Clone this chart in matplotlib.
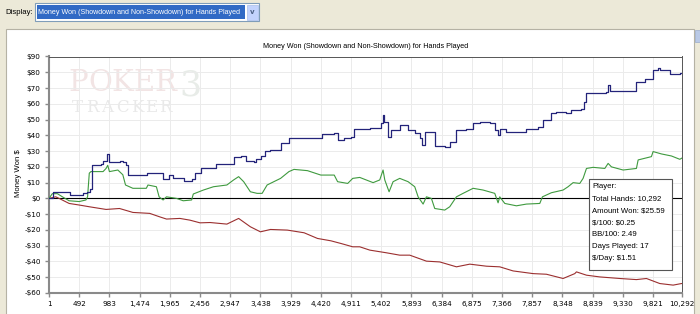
import matplotlib
matplotlib.use("Agg")
import matplotlib.pyplot as plt
from matplotlib.patches import Rectangle

plt.rcParams['text.parse_math'] = False

# ---------------- data ----------------
title = "Money Won (Showdown and Non-Showdown) for Hands Played"
ylabel = "Money Won $"
xticks = [1, 492, 983, 1474, 1965, 2456, 2947, 3438, 3929, 4420, 4911,
          5402, 5893, 6384, 6875, 7366, 7857, 8348, 8839, 9330, 9821, 10292]
yticks = [-60, -50, -40, -30, -20, -10, 0, 10, 20, 30, 40, 50, 60, 70, 80, 90]

blue_x = [1, 70, 330, 340, 550, 560, 620, 660, 700, 850, 880, 945, 975, 1150, 1200,
          1260, 1290, 1560, 1600, 1830, 1850, 1960, 2020, 2170, 2190, 2330, 2370,
          2480, 2690, 2710, 2960, 3010, 3130, 3210, 3340, 3370, 3440, 3520, 3600,
          3766, 3902, 4203, 4447, 4638, 4693, 4802, 4911, 4966, 5216, 5405, 5432,
          5450, 5514, 5568, 5703, 5839, 5947, 6029, 6072, 6110, 6245, 6272, 6435,
          6516, 6625, 6787, 6896, 7004, 7167, 7248, 7302, 7329, 7438, 7600, 7763,
          7953, 8034, 8169, 8251, 8413, 8495, 8657, 8695, 8739, 9064, 9091, 9129,
          9497, 9551, 9687, 9822, 9904, 9930, 10094, 10256, 10292]
blue_y = [0, 4, 4, 2, 2, 3.5, 4, 6, 21.5, 22, 24, 28, 23, 24, 23,
          21, 15, 15, 16, 16, 12, 15, 13, 13, 11, 12, 16,
          19, 19, 22, 22, 26, 27, 24, 23, 25, 27, 30, 31,
          35, 38, 38.5, 41, 41.7, 37, 38, 39, 44, 44.5, 47.7, 53,
          48.7, 38.8, 43.4, 46.6, 43.4, 41.3, 38, 33.9, 42, 42, 33.3, 32.8,
          36, 43.4, 44, 48, 48.7, 47.7, 43.4, 40.3, 43.9, 42.4, 42.4, 43.9,
          45.6, 49.8, 54, 55, 54, 56, 56.6, 61.4, 67, 67.8, 72, 68.4,
          68.4, 74, 76, 81.6, 82.6, 81.6, 79, 79.4, 79.5]

green_x = [1, 55, 137, 219, 328, 492, 601, 628, 656, 683, 880, 929, 956, 983, 1120,
           1201, 1245, 1365, 1583, 1610, 1747, 1791, 1856, 1911, 2074, 2183, 2320,
           2347, 2511, 2675, 2893, 3002, 3084, 3166, 3275, 3384, 3466, 3547, 3656,
           3766, 3902, 3984, 4203, 4420, 4638, 4693, 4857, 4939, 5053, 5270, 5378,
           5432, 5460, 5530, 5595, 5703, 5839, 5947, 6002, 6083, 6137, 6218, 6272,
           6435, 6516, 6625, 6733, 6896, 7058, 7248, 7302, 7329, 7411, 7600, 7763,
           7980, 8023, 8169, 8359, 8440, 8522, 8630, 8684, 8739, 8847, 9037, 9091,
           9145, 9335, 9551, 9579, 9795, 9822, 9958, 10121, 10256, 10292]
green_y = [0, 3, 3, 1, -1.5, -2, -1, 1, 16, 17, 17, 19, 21, 17, 18,
           15, 8.5, 6.4, 6.4, 8.5, 7.4, 1, -1, 1, 0, -1.5, -1,
           2.8, 5.3, 7.4, 8.5, 11.7, 13.8, 10.6, 4.2, 3.2, 3.2, 8.5, 10.6,
           12.7, 17, 18.4, 17.6, 14.8, 14.8, 10.6, 9.5, 12.7, 13.3, 10, 11.7,
           18, 11.7, 4.2, 10.6, 12.7, 10.6, 7.4, 1, -3.6, 1, 0, -6.4,
           -7.4, -5.3, 1, 3.2, 6.4, 5.3, 3.2, -2.8, 1, -3.2, -4.7, -3.6,
           -3.2, 1, 3.6, 5.3, 7.4, 10, 9.5, 12.7, 19, 19.7, 19, 22.2,
           20, 18, 19, 24.4, 26.5, 29.7, 28.2, 26.9, 24.8, 25.6]

red_x = [1, 110, 165, 328, 492, 656, 929, 1147, 1365, 1638, 1801, 1911, 2129,
         2293, 2456, 2620, 2893, 3084, 3275, 3438, 3602, 3875, 4148, 4366, 4584,
         4748, 4939, 5053, 5216, 5487, 5703, 5866, 6137, 6354, 6625, 6842, 7113,
         7329, 7546, 7871, 8088, 8359, 8549, 8576, 8739, 8955, 9281, 9551, 9714,
         9931, 10148, 10283, 10292]
red_y = [0, 1, 0, -3.2, -4.2, -5.3, -7, -6.4, -8.9, -9.5, -11.7, -13.1, -12.7,
         -13.8, -15.5, -15.3, -16.3, -12.7, -18, -21.2, -19.7, -20.1, -21.8, -25.4, -26.9,
         -28.6, -30.7, -30.7, -32.8, -34.5, -36, -36, -39.8, -40.3, -43.4, -41.7, -43,
         -43.4, -46, -47.7, -48.1, -50.8, -47.7, -46.6, -48.7, -49.8, -50.8, -51.5, -50.8,
         -54, -55, -54, -54]

info_lines = ["Player:", "Total Hands: 10,292", "Amount Won: $25.59", "$/100: $0.25",
              "BB/100: 2.49", "Days Played: 17", "$/Day: $1.51"]

# ---------------- figure ----------------
W, H = 700, 314
fig = plt.figure(figsize=(W / 100, H / 100), dpi=100, facecolor="#ece9d8")
plt.rcParams['font.family'] = ['DejaVu Sans']
UI = "Liberation Sans"


def fx(px):
    return px / W


def fy(py):
    return 1 - py / H


def rect(x0, y0, x1, y1, zorder=-5, **kw):
    r = Rectangle((fx(x0), fy(y1)), fx(x1) - fx(x0), fy(y0) - fy(y1),
                  transform=fig.transFigure, zorder=zorder, **kw)
    fig.add_artist(r)
    return r


# white panel (behind axes)
rect(6, 29, 694, 316, facecolor="white", edgecolor="#b5b2a4", linewidth=0.8, zorder=-10)
# scrollbar hint
rect(695, 30, 700, 42, facecolor="#b9c9e6", edgecolor="#9aaccc", linewidth=0.5, zorder=-10)

# top controls
fig.text(fx(5), fy(12.5), "Display:", fontsize=5.6, family=UI, va="center", ha="left",
         color="#000000")
rect(35, 3, 259, 21, facecolor="white", edgecolor="#7f9db9", linewidth=0.8, zorder=-10)
rect(37, 5, 245, 19, facecolor="#316ac5", edgecolor="none", zorder=-9)
rect(247, 4.5, 258, 19.5, facecolor="#c3d3fd", edgecolor="#a8bde8", linewidth=0.5, zorder=-9)
fig.text(fx(252.5), fy(12), "v", fontsize=5, ha="center", va="center", color="#4d6185",
         fontweight="bold")
fig.text(fx(38.5), fy(12.2), title, fontsize=5.15, family=UI, va="center", ha="left",
         color="white")

# axes
ax = fig.add_axes([fx(49), fy(293), fx(682) - fx(49), fy(56.5) - fy(293)])
ax.set_facecolor("white")
ax.set_zorder(1)

# watermark (letters placed individually, figure-pixel positions)
for ch, cx in zip("POKER", [78, 100, 122, 144, 165]):
    ax.text(fx(cx), fy(83), ch, transform=fig.transFigure, fontsize=21,
            family="DejaVu Serif", color="#f2e4e4", va="center", ha="center", zorder=0)
for ch, cx in zip("TRACKER", [77, 92, 107, 122, 137, 151, 165]):
    ax.text(fx(cx), fy(108), ch, transform=fig.transFigure, fontsize=12,
            family="DejaVu Serif", color="#e9e9e9", va="center", ha="center", zorder=0)
ax.text(fx(190), fy(86), "3", transform=fig.transFigure, fontsize=25,
        family="DejaVu Serif", color="#e8ece8", va="center", ha="center", zorder=0)

ax.set_xlim(1, 10292)
ax.set_ylim(-60, 90)
ax.set_xticks(xticks)
ax.set_xticklabels([f"{t:,}" for t in xticks])
ax.set_yticks(yticks)
ax.set_yticklabels([f"${t}" if t >= 0 else f"-${-t}" for t in yticks])
ax.grid(True, color="#ebebeb", linewidth=0.7, zorder=0)
ax.set_axisbelow(True)
ax.tick_params(axis="both", labelsize=5.2, length=3, width=1, color="#8a8a8a",
               labelcolor="#000000", pad=3)
for side in ("left", "bottom"):
    ax.spines[side].set_color("#8a8a8a")
    ax.spines[side].set_linewidth(1.5)
for side in ("top", "right"):
    ax.spines[side].set_color("#555555")
    ax.spines[side].set_linewidth(0.7)

ax.axhline(0, color="#000000", linewidth=0.8, zorder=2)
ax.plot(red_x, red_y, color="#9b2f2f", linewidth=0.8, zorder=3)
ax.plot(green_x, green_y, color="#3f9a3f", linewidth=0.8, zorder=3)
ax.plot(blue_x, blue_y, color="#23237a", linewidth=0.9, zorder=4, drawstyle="steps-post")

# info box
box = Rectangle((fx(589), fy(270)), fx(672) - fx(589), fy(179) - fy(270),
                transform=fig.transFigure, facecolor="white", edgecolor="#555555",
                linewidth=0.8, zorder=5)
ax.add_artist(box)
for i, line in enumerate(info_lines):
    ax.text(fx(592), fy(187 + 12 * i), line, transform=fig.transFigure, fontsize=5.6,
            family=UI, ha="left", va="center", color="#000000", zorder=6)

fig.text(fx(365.5), fy(46), title, fontsize=5.2, family=UI, ha="center", va="center",
         color="#000000")
fig.text(fx(19), fy(173), ylabel, fontsize=5.6, family=UI, rotation=90, ha="center",
         va="center")

fig.savefig("out.png", dpi=100, facecolor=fig.get_facecolor())
